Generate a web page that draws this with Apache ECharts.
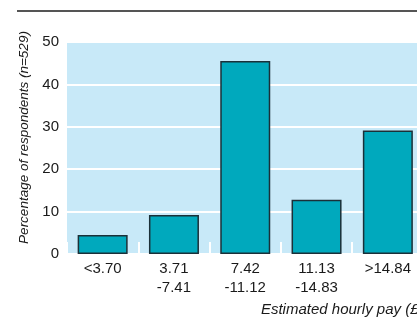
<!DOCTYPE html>
<html>
<head>
<meta charset="utf-8">
<script src="https://cdn.jsdelivr.net/npm/echarts@6/dist/echarts.min.js"></script>
<style>html,body{margin:0;padding:0;background:#fff;}#c{width:417px;height:326px;}</style>
</head>
<body>
<div id="c"></div>
<script>
var categories = ['<3.70', '3.71\n-7.41', '7.42\n-11.12', '11.13\n-14.83', '>14.84'];
var percentages = [4.5, 9.2, 45.5, 12.8, 29.1];
var yTicks = {min: 0, max: 50, interval: 10};
var yTitle = 'Percentage of respondents (n=529)';
var xTitle = 'Estimated hourly pay (£)';

var chart = echarts.init(document.getElementById('c'), null, {renderer: 'canvas'});
var font = 'Liberation Sans, Arial, Helvetica, sans-serif';
chart.setOption({
  animation: false,
  backgroundColor: '#ffffff',
  graphic: [{
    type: 'line',
    shape: {x1: 17, y1: 11, x2: 417, y2: 11},
    style: {stroke: '#555555', lineWidth: 2}
  }],
  grid: {
    left: 67, top: 42, width: 356.5, height: 212,
    outerBoundsMode: 'none', containLabel: false,
    show: true, backgroundColor: '#c8e9f8', borderWidth: 0
  },
  xAxis: {
    type: 'category',
    data: categories,
    axisLine: {show: false},
    axisTick: {show: true, inside: true, length: 12, lineStyle: {color: '#ffffff', width: 2}},
    axisLabel: {color: '#1a1a1a', fontFamily: font, fontSize: 15, lineHeight: 19, margin: 5},
    name: xTitle,
    nameLocation: 'end',
    nameGap: 0,
    nameTextStyle: {color: '#1a1a1a', fontFamily: font, fontSize: 15, fontStyle: 'italic',
      align: 'right', verticalAlign: 'top', padding: [48, 0, 0, 0]}
  },
  yAxis: {
    type: 'value',
    min: yTicks.min, max: yTicks.max, interval: yTicks.interval,
    axisLine: {show: false},
    axisTick: {show: false},
    splitLine: {show: true, lineStyle: {color: '#ffffff', width: 2}},
    axisLabel: {color: '#1a1a1a', fontFamily: font, fontSize: 15, margin: 8},
    name: yTitle,
    nameLocation: 'middle',
    nameGap: 34,
    nameTextStyle: {color: '#1a1a1a', fontFamily: font, fontSize: 13.5, fontStyle: 'italic',
      padding: [0, 0, 0, 21]}
  },
  series: [{
    type: 'bar',
    data: percentages,
    barWidth: 50,
    itemStyle: {color: '#00a9bd', borderColor: '#1b3038', borderWidth: 1.5}
  }]
});
</script>
</body>
</html>
